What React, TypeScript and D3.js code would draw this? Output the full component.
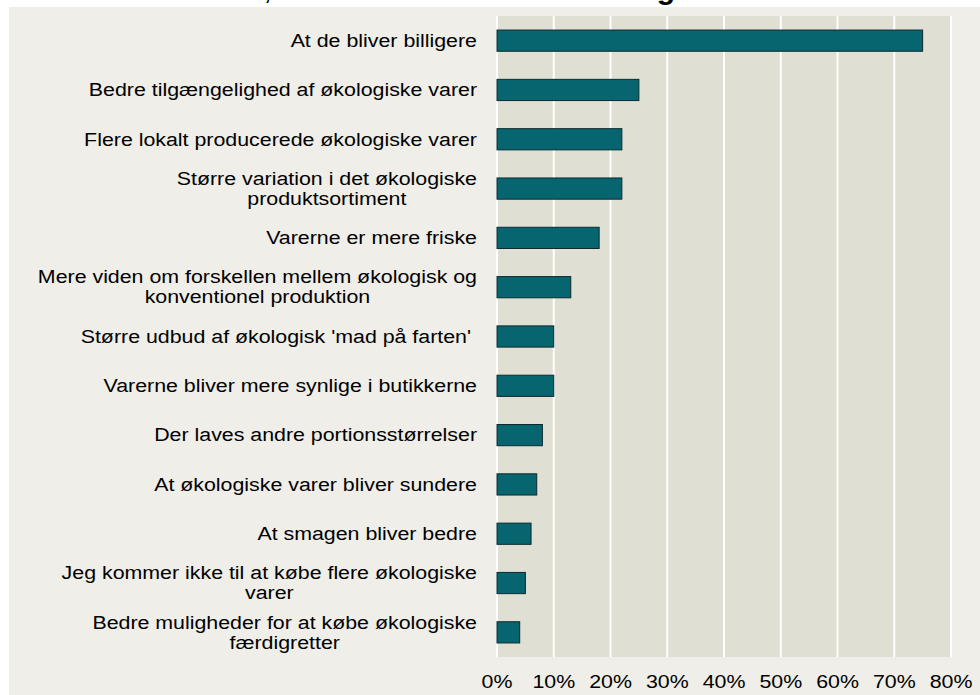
import React, { useEffect, useRef } from "react";
import * as d3 from "d3";

// categories, top to bottom ("\n" = line break in the label)
const categories = [
  "At de bliver billigere",
  "Bedre tilgængelighed af økologiske varer",
  "Flere lokalt producerede økologiske varer",
  "Større variation i det økologiske\nproduktsortiment",
  "Varerne er mere friske",
  "Mere viden om forskellen mellem økologisk og\nkonventionel produktion",
  "Større udbud af økologisk 'mad på farten' ",
  "Varerne bliver mere synlige i butikkerne",
  "Der laves andre portionsstørrelser",
  "At økologiske varer bliver sundere",
  "At smagen bliver bedre",
  "Jeg kommer ikke til at købe flere økologiske\nvarer",
  "Bedre muligheder for at købe økologiske\nfærdigretter",
];
const values = [75, 25, 22, 22, 18, 13, 10, 10, 8, 7, 6, 5, 4];
const ticks = [0, 10, 20, 30, 40, 50, 60, 70, 80];

export default function App() {
  const svgRef = useRef<SVGSVGElement>(null);

  useEffect(() => {
    const W = 980, H = 695;
    const margin = { top: 16, right: 26, bottom: 38, left: 497 };
    const font = "Liberation Sans, Arial, sans-serif";
    const fs = 17.8;
    const sx = 1.2; // text in the picture is a bit wider than tall

    const svg = d3.select(svgRef.current)
      .html("")
      .attr("width", W)
      .attr("height", H);

    // page + chart background
    svg.append("rect").attr("width", W).attr("height", H).attr("fill", "#ffffff");
    svg.append("rect")
      .attr("x", 9).attr("y", 7)
      .attr("width", W - 9).attr("height", H - 7)
      .attr("fill", "#efeee8");

    // cut-off title
    const title = svg.append("text")
      .attr("x", 50).attr("y", -1)
      .style("font-family", font)
      .style("font-size", "30px")
      .attr("fill", "#000");
    title.append("tspan").text("Hvad skal der til, for at du vil købe flere ");
    title.append("tspan").style("font-weight", "bold").text("økologiske");
    title.append("tspan").text(" varer");

    const x = d3.scaleLinear()
      .domain([0, 80])
      .range([margin.left, W - margin.right - 3]);

    const y = d3.scaleBand()
      .domain(categories)
      .range([margin.top, H - margin.bottom])
      .paddingInner(0.57)
      .paddingOuter(0.285);

    // plot area
    svg.append("rect")
      .attr("x", x(0)).attr("y", margin.top)
      .attr("width", x(80) - x(0)).attr("height", H - margin.bottom - margin.top)
      .attr("fill", "#dfdfd4");

    // gridlines
    svg.append("g")
      .selectAll("line")
      .data(ticks)
      .join("line")
      .attr("x1", d => x(d)).attr("x2", d => x(d))
      .attr("y1", margin.top).attr("y2", H - margin.bottom)
      .attr("stroke", "#ffffff")
      .attr("stroke-width", 2);

    // bars
    svg.append("g")
      .selectAll("rect")
      .data(values)
      .join("rect")
      .attr("x", x(0))
      .attr("y", (d, i) => y(categories[i])!)
      .attr("width", d => x(d) - x(0))
      .attr("height", y.bandwidth())
      .attr("fill", "#076570")
      .attr("stroke", "#0b2a2e")
      .attr("stroke-width", 1);

    // category labels
    const labelRight = 477;
    const lineH = 20;
    categories.forEach(cat => {
      const lines = cat.split("\n");
      const cy = y(cat)! + y.bandwidth() / 2;
      const g = svg.append("g")
        .attr("transform", `translate(${labelRight},${cy}) scale(${sx},1)`);
      const texts = lines.map((ln, j) =>
        g.append("text")
          .attr("y", (j - (lines.length - 1) / 2) * lineH)
          .attr("dy", "0.35em")
          .style("font-family", font)
          .style("font-size", fs + "px")
          .style("white-space", "pre")
          .attr("fill", "#000")
          .text(ln)
      );
      if (lines.length === 1) {
        texts[0].attr("text-anchor", "end");
      } else {
        const maxW = d3.max(texts, t => (t.node() as SVGTextElement).getComputedTextLength())!;
        texts.forEach(t => t.attr("text-anchor", "middle").attr("x", -maxW / 2));
      }
    });

    // x tick labels
    ticks.forEach(t => {
      svg.append("g")
        .attr("transform", `translate(${x(t)},${H - 7}) scale(${sx},1)`)
        .append("text")
        .attr("text-anchor", "middle")
        .style("font-family", font)
        .style("font-size", fs + "px")
        .attr("fill", "#000")
        .text(t + "%");
    });
  }, []);

  return (
    <svg
      ref={svgRef}
      style={{ position: "absolute", left: 0, top: 0, display: "block" }}
    ></svg>
  );
}
